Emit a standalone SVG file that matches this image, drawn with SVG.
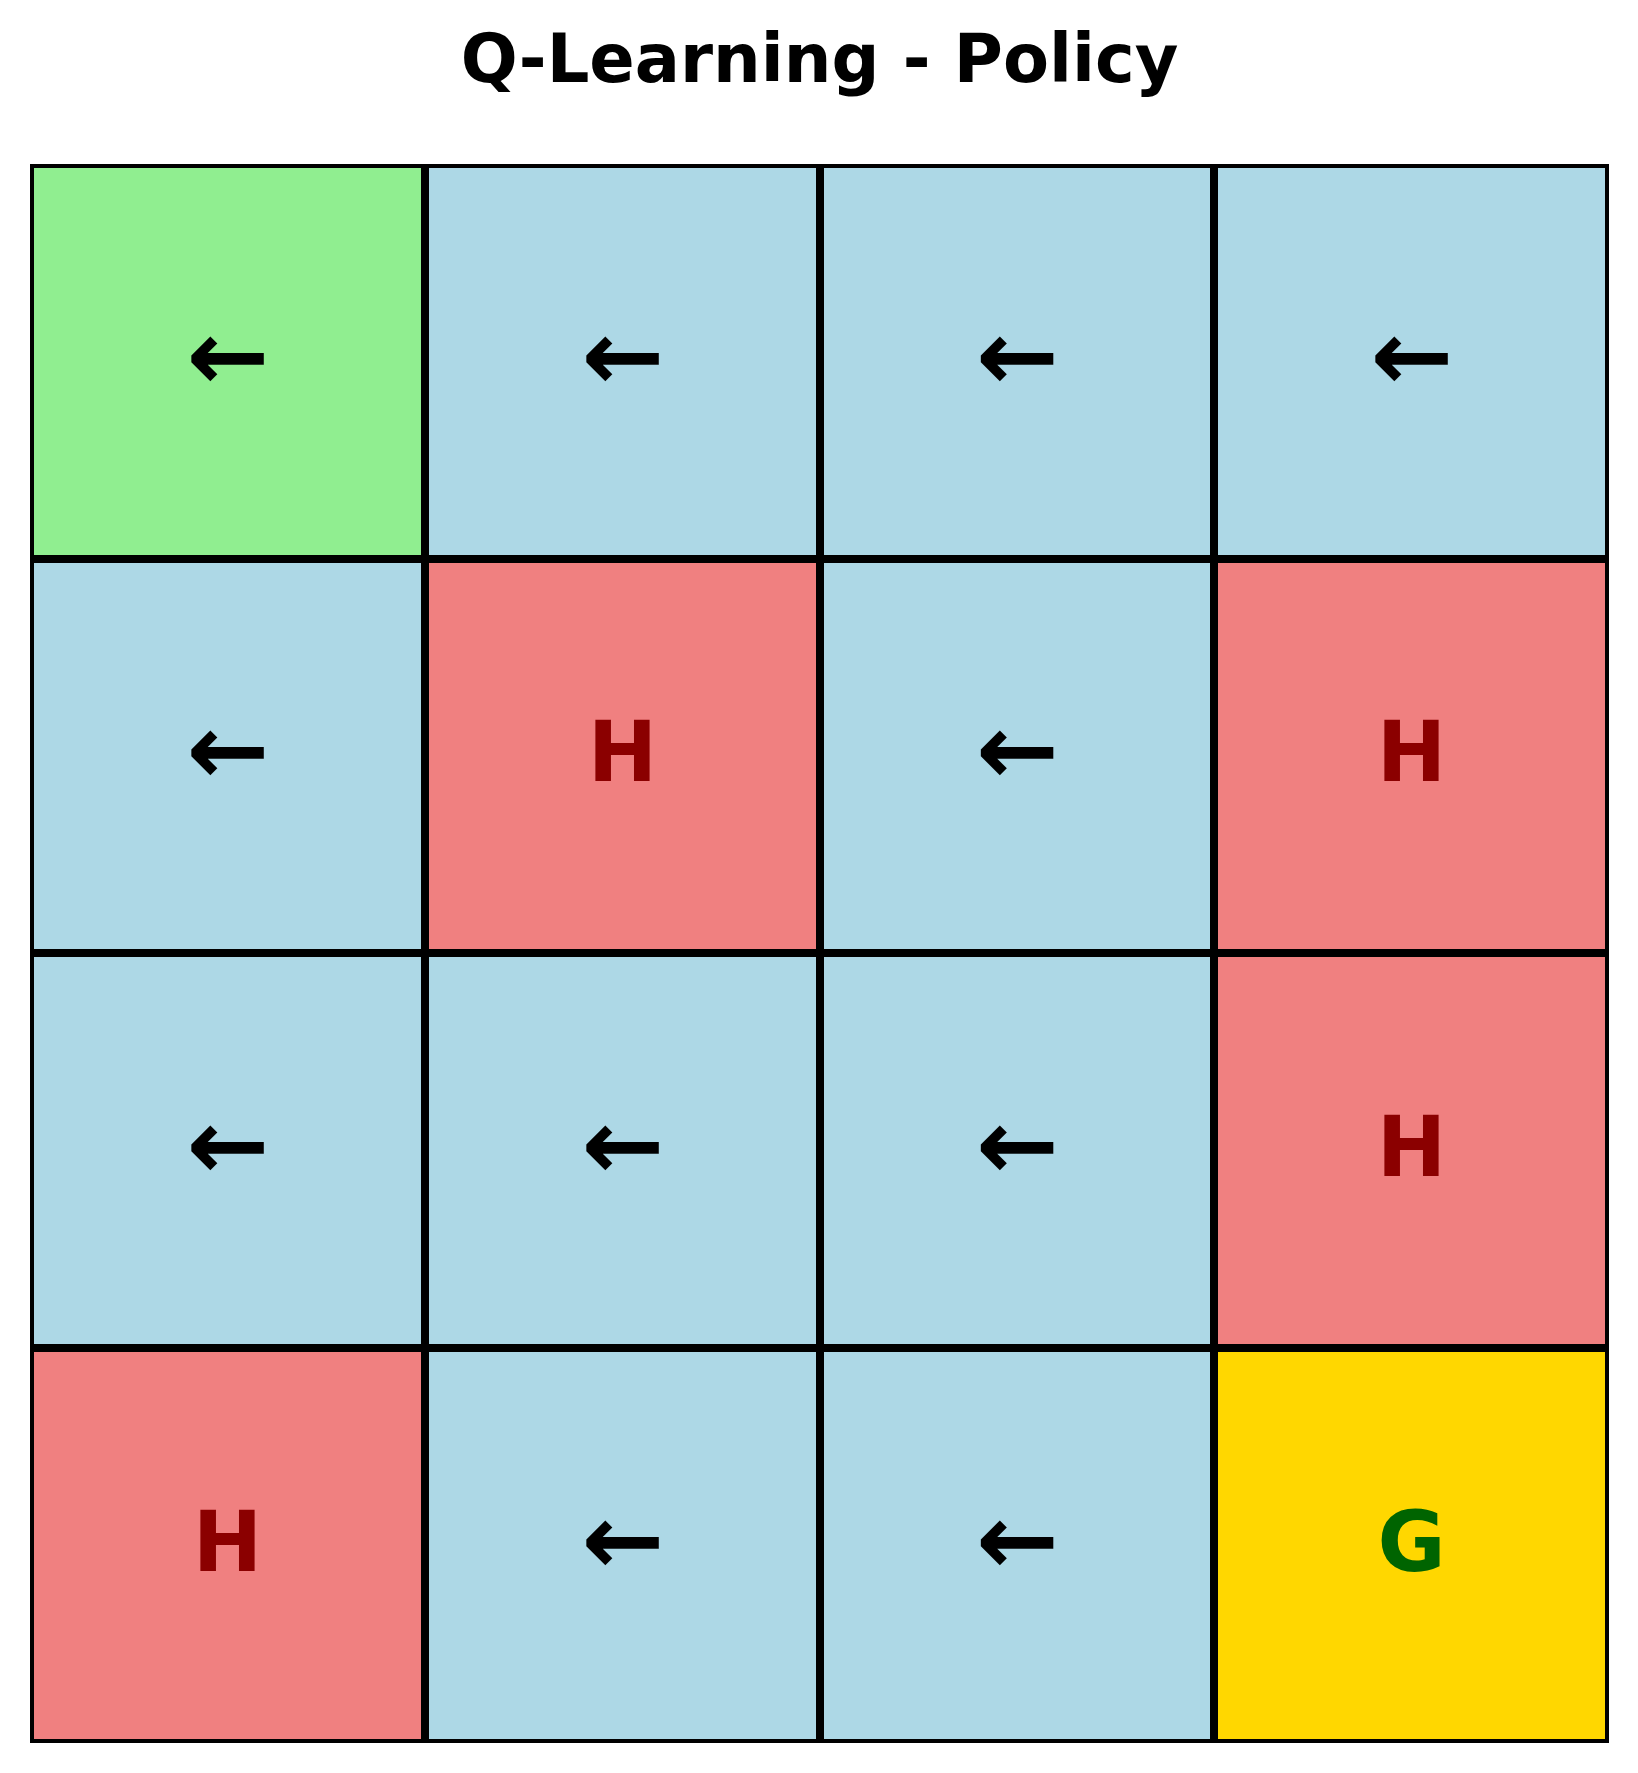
<svg xmlns="http://www.w3.org/2000/svg" width="1638" height="1773" viewBox="0 0 1638 1773">
<style>
.cell{stroke:#000;stroke-width:4}
.s{fill:#90EE90}.f{fill:#ADD8E6}.h{fill:#F08080}.g{fill:#FFD700}
text{font-family:"DejaVu Sans",sans-serif;font-weight:bold;text-anchor:middle}
.a{font-size:99px;fill:#000}
.ht{font-size:83px;fill:#8B0000}
.gt{font-size:83px;fill:#006400}
.title{font-size:67px;fill:#000}
</style>
<rect width="1638" height="1773" fill="#fff"/>
<text class="title" x="819.5" y="82">Q-Learning - Policy</text>
<g id="c00"><rect class="cell s" x="32" y="166" width="391" height="391"/><text class="a" x="228" y="389.5">←</text></g>
<g id="c01"><rect class="cell f" x="427" y="166" width="391" height="391"/><text class="a" x="623" y="389.5">←</text></g>
<g id="c02"><rect class="cell f" x="822" y="166" width="390" height="391"/><text class="a" x="1017.5" y="389.5">←</text></g>
<g id="c03"><rect class="cell f" x="1216" y="166" width="391" height="391"/><text class="a" x="1412" y="389.5">←</text></g>
<g id="c10"><rect class="cell f" x="32" y="561" width="391" height="390"/><text class="a" x="228" y="784">←</text></g>
<g id="c11"><rect class="cell h" x="427" y="561" width="391" height="390"/><text class="ht" x="622.5" y="781">H</text></g>
<g id="c12"><rect class="cell f" x="822" y="561" width="390" height="390"/><text class="a" x="1017.5" y="784">←</text></g>
<g id="c13"><rect class="cell h" x="1216" y="561" width="391" height="390"/><text class="ht" x="1411.5" y="781">H</text></g>
<g id="c20"><rect class="cell f" x="32" y="955" width="391" height="391"/><text class="a" x="228" y="1179">←</text></g>
<g id="c21"><rect class="cell f" x="427" y="955" width="391" height="391"/><text class="a" x="623" y="1179">←</text></g>
<g id="c22"><rect class="cell f" x="822" y="955" width="390" height="391"/><text class="a" x="1017.5" y="1179">←</text></g>
<g id="c23"><rect class="cell h" x="1216" y="955" width="391" height="391"/><text class="ht" x="1411.5" y="1176">H</text></g>
<g id="c30"><rect class="cell h" x="32" y="1350" width="391" height="391"/><text class="ht" x="227.5" y="1570.5">H</text></g>
<g id="c31"><rect class="cell f" x="427" y="1350" width="391" height="391"/><text class="a" x="623" y="1574">←</text></g>
<g id="c32"><rect class="cell f" x="822" y="1350" width="390" height="391"/><text class="a" x="1017.5" y="1574">←</text></g>
<g id="c33"><rect class="cell g" x="1216" y="1350" width="391" height="391"/><text class="gt" x="1411.5" y="1570.5">G</text></g>
<g id="connectors"/>
</svg>
